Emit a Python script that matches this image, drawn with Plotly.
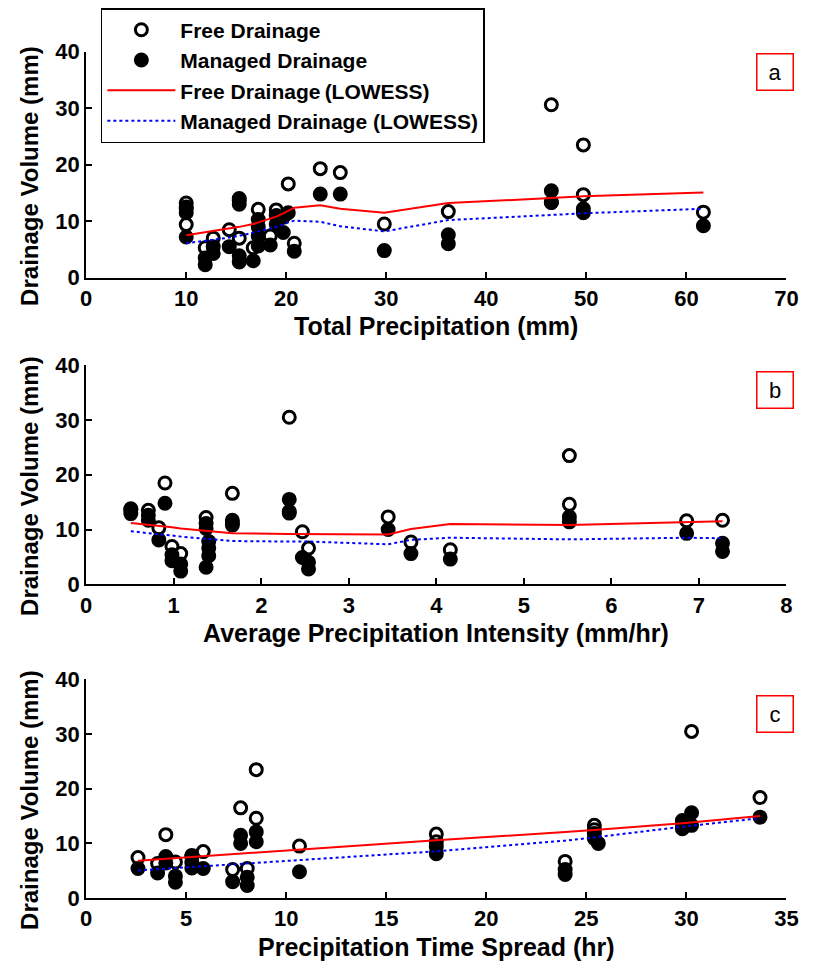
import plotly.graph_objects as go

# ---- (a) Total precipitation ----
a_free_x = [10.0, 10.0, 10.0, 11.9, 12.7, 14.3, 15.3, 15.3, 16.7, 17.2, 18.4, 19.0, 20.2, 20.8,
            23.4, 25.4, 29.8, 36.2, 46.5, 46.5, 49.7, 49.7, 61.7]
a_free_y = [13.2, 12.5, 9.4, 5.3, 7.0, 8.5, 13.6, 7.0, 5.3, 12.1, 7.4, 12.0, 16.6, 6.1,
            19.3, 18.6, 9.5, 11.7, 30.6, 13.3, 23.5, 14.7, 11.6]
a_man_x = [10.0, 10.0, 10.0, 11.9, 11.9, 12.7, 12.7, 14.3, 15.3, 15.3, 15.3, 15.3, 16.7, 17.2,
           17.2, 17.2, 17.2, 18.4, 19.0, 19.0, 19.7, 19.7, 20.2, 20.8, 23.4, 25.4, 29.8, 36.2,
           36.2, 46.5, 46.5, 49.7, 49.7, 61.7]
a_man_y = [12.2, 11.5, 7.2, 3.5, 2.3, 5.5, 4.3, 5.5, 14.0, 13.0, 3.9, 2.8, 3.0, 10.3,
           9.0, 7.4, 5.6, 5.8, 11.0, 9.5, 10.7, 8.0, 11.5, 4.7, 14.8, 14.8, 4.8, 7.6,
           6.0, 15.4, 13.3, 12.2, 11.5, 9.2]
a_fit_x = [10.0, 11.9, 12.7, 14.3, 15.3, 16.7, 17.2, 18.4, 19.0, 19.7, 20.2, 20.8, 23.4, 25.4,
           29.8, 36.2, 46.5, 49.7, 61.7]
a_fit_free = [7.5, 8.0, 8.3, 8.7, 9.0, 9.5, 9.8, 10.4, 10.8, 11.4, 11.9, 12.4, 12.8, 12.2,
              11.5, 13.2, 14.1, 14.4, 15.1]
a_fit_man = [6.1, 6.5, 6.8, 7.1, 7.4, 7.9, 8.2, 8.7, 9.0, 9.4, 9.8, 10.1, 9.9, 9.1,
             8.2, 10.2, 11.1, 11.4, 12.2]

# ---- (b) Average precipitation intensity ----
b_free_x = [0.51, 0.71, 0.83, 0.90, 0.98, 1.08, 1.37, 1.67, 1.67, 2.32, 2.32, 2.47, 2.54,
            3.45, 3.71, 4.16, 5.52, 5.52, 6.86, 7.27]
b_free_y = [13.6, 13.5, 10.3, 18.5, 6.9, 5.6, 12.2, 16.6, 11.2, 30.5, 13.0, 9.6, 6.6,
            12.3, 7.7, 6.3, 23.5, 14.6, 11.6, 11.7]
b_man_x = [0.51, 0.51, 0.71, 0.71, 0.83, 0.90, 0.98, 0.98, 1.08, 1.08, 1.37, 1.37, 1.40, 1.40,
           1.40, 1.37, 1.67, 1.67, 2.32, 2.32, 2.47, 2.54, 2.54, 3.45, 3.71, 4.16, 5.52, 5.52,
           6.86, 7.27, 7.27]
b_man_y = [13.8, 12.9, 12.6, 11.7, 8.1, 14.8, 5.4, 4.3, 3.7, 2.4, 11.1, 10.2, 7.8, 6.6,
           5.2, 3.1, 11.7, 10.8, 15.5, 13.3, 4.9, 4.0, 2.8, 10.0, 5.6, 4.6, 12.3, 11.4,
           9.3, 7.5, 6.0]
b_fit_x = [0.51, 0.71, 0.83, 0.98, 1.08, 1.37, 1.67, 2.32, 2.47, 2.54, 3.45, 3.71, 4.16,
           5.52, 6.86, 7.27]
b_fit_free = [11.2, 10.9, 10.6, 10.4, 10.2, 9.7, 9.3, 9.2, 9.2, 9.2, 9.1, 10.1, 11.0,
              10.8, 11.4, 11.5]
b_fit_man = [9.7, 9.3, 9.1, 8.9, 8.7, 8.3, 7.9, 7.8, 7.8, 7.8, 7.3, 8.1, 8.5,
             8.2, 8.5, 8.4]

# ---- (c) Precipitation time spread ----
c_free_x = [2.59, 3.57, 3.98, 4.46, 5.28, 5.85, 7.32, 7.72, 8.05, 8.5, 8.5, 10.66, 17.5, 17.5,
            23.94, 25.4, 25.4, 29.8, 30.26, 33.68]
c_free_y = [7.4, 6.3, 11.6, 6.6, 7.8, 8.5, 5.2, 16.5, 5.4, 23.5, 14.6, 9.5, 11.7, 10.3,
            6.7, 13.3, 12.5, 13.5, 30.5, 18.4]
c_man_x = [2.59, 3.57, 3.98, 3.98, 4.46, 4.46, 5.28, 5.28, 5.28, 5.85, 7.32, 7.72, 7.72, 8.05,
           8.05, 8.5, 8.5, 10.66, 17.5, 17.5, 23.94, 23.94, 25.4, 25.4, 25.6, 29.8, 29.8,
           30.26, 30.26, 33.68]
c_man_y = [5.4, 4.6, 7.6, 6.4, 4.0, 2.9, 7.6, 6.5, 5.5, 5.4, 3.0, 11.5, 10.0, 3.8,
           2.3, 12.1, 10.3, 4.8, 9.4, 8.1, 5.2, 4.3, 11.8, 10.9, 10.0, 14.2, 12.7,
           15.6, 13.3, 14.8]
c_fit_x = [2.59, 3.57, 3.98, 4.46, 5.28, 5.85, 7.32, 7.72, 8.05, 8.5, 10.66, 17.5, 23.94,
           25.4, 29.8, 30.26, 33.68]
c_fit_free = [6.84, 7.09, 7.19, 7.31, 7.52, 7.66, 8.03, 8.13, 8.22, 8.33, 8.88, 10.56, 12.08,
              12.43, 13.7, 13.85, 15.0]
c_fit_man = [5.05, 5.28, 5.38, 5.49, 5.68, 5.82, 6.17, 6.26, 6.34, 6.45, 6.96, 8.55, 10.5,
             11.1, 13.05, 13.25, 14.6]

panel_letters = ["a", "b", "c"]
x_titles = ["Total Precipitation (mm)", "Average Precipitation Intensity (mm/hr)",
            "Precipitation Time Spread (hr)"]
x_ranges = [[0, 70], [0, 8], [0, 35]]
x_dticks = [10, 1, 5]
y_title = "Drainage Volume (mm)"

FONT = "Liberation Sans, Arial, sans-serif"
W, H = 817, 977
# plot-area rows in pixels (top, bottom)
rows_px = [(40.7, 272.7), (362.5, 587.3), (685.0, 909.3)]
letter_top_px = [55, 381, 714]
x_px = (82.0, 798.0)

panels = [
    (a_free_x, a_free_y, a_man_x, a_man_y, a_fit_x, a_fit_free, a_fit_man),
    (b_free_x, b_free_y, b_man_x, b_man_y, b_fit_x, b_fit_free, b_fit_man),
    (c_free_x, c_free_y, c_man_x, c_man_y, c_fit_x, c_fit_free, c_fit_man),
]

fig = go.Figure()
for i, (fx, fy, mx, my, lx, lf, lm) in enumerate(panels):
    xa = "x" if i == 0 else f"x{i+1}"
    ya = "y" if i == 0 else f"y{i+1}"
    show = i == 0
    fig.add_trace(go.Scatter(
        x=fx, y=fy, mode="markers", name="Free Drainage", xaxis=xa, yaxis=ya,
        showlegend=show,
        marker=dict(symbol="circle-open", size=12, color="black", line=dict(width=3, color="black"))))
    fig.add_trace(go.Scatter(
        x=mx, y=my, mode="markers", name="Managed Drainage", xaxis=xa, yaxis=ya,
        showlegend=show,
        marker=dict(symbol="circle", size=12, color="black", line=dict(width=3, color="black"))))
    fig.add_trace(go.Scatter(
        x=lx, y=lf, mode="lines", name="Free Drainage\u2009(LOWESS)", xaxis=xa, yaxis=ya,
        showlegend=show, line=dict(color="#ff0000", width=2)))
    fig.add_trace(go.Scatter(
        x=lx, y=lm, mode="lines", name="Managed Drainage (LOWESS)", xaxis=xa, yaxis=ya,
        showlegend=show, line=dict(color="#0000ff", width=2, dash="dot")))

axis_common = dict(
    showline=True, linecolor="black", linewidth=2, mirror=False,
    ticks="inside", ticklen=6, tickwidth=2, tickcolor="black",
    showgrid=False, zeroline=False,
    tickfont=dict(family=FONT, size=22, color="black", weight="bold"),
)

layout = dict(
    width=W, height=H, margin=dict(l=0, r=0, t=0, b=0),
    paper_bgcolor="white", plot_bgcolor="white",
    showlegend=True,
    legend=dict(
        x=97 / W, y=1 + 4 / H, xanchor="left", yanchor="top",
        bgcolor="white", bordercolor="black", borderwidth=1.5,
        font=dict(family=FONT, size=21, color="black", weight="bold"),
        itemwidth=68, tracegroupgap=0,
    ),
)
annotations = []
for i in range(3):
    top, bot = rows_px[i]
    sfx = "" if i == 0 else str(i + 1)
    layout["xaxis" + sfx] = dict(
        axis_common, domain=[x_px[0] / W, x_px[1] / W], range=x_ranges[i],
        dtick=x_dticks[i], tick0=0, anchor="y" + sfx,
    )
    layout["yaxis" + sfx] = dict(
        axis_common, domain=[1 - bot / H, 1 - top / H], range=[0, 40],
        dtick=10, tick0=0, anchor="x" + sfx,
    )
    # x-axis title
    annotations.append(dict(
        text=x_titles[i], xref="paper", yref="paper",
        x=(x_px[0] + x_px[1]) / 2 / W, y=1 - (bot + 50) / H,
        showarrow=False, xanchor="center", yanchor="middle",
        font=dict(family=FONT, size=25, color="black", weight="bold"),
    ))
    # y-axis title
    annotations.append(dict(
        text=y_title, xref="paper", yref="paper", textangle=-90,
        x=24 / W, y=1 - ((top + bot) / 2 + 11) / H,
        showarrow=False, xanchor="center", yanchor="middle",
        font=dict(family=FONT, size=24, color="black", weight="bold"),
    ))
    # panel letter box
    annotations.append(dict(
        text=panel_letters[i], xref="paper", yref="paper",
        x=806 / W, y=1 - (letter_top_px[i] - 13) / H,
        xanchor="right", yanchor="top", showarrow=False,
        width=33, height=33, bgcolor="white", bordercolor="#ff0000", borderwidth=1.5,
        font=dict(family=FONT, size=22, color="black"),
    ))
layout["annotations"] = annotations
fig.update_layout(**layout)

fig.write_html("out.html")
